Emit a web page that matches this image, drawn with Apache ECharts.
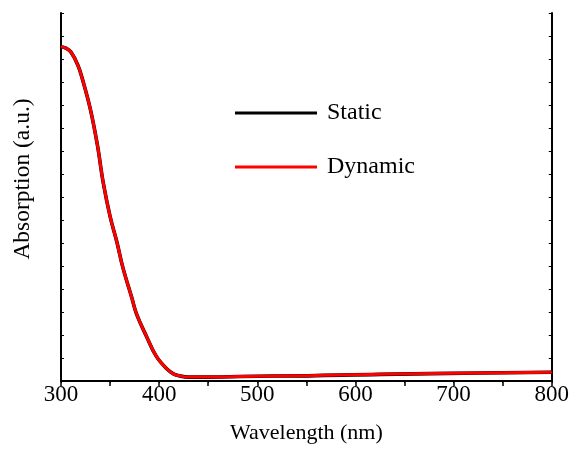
<!DOCTYPE html>
<html><head><meta charset="utf-8">
<script src="https://cdn.jsdelivr.net/npm/echarts@6/dist/echarts.min.js"></script>
<style>html,body{margin:0;padding:0;background:#fff}#c{width:572px;height:449px}</style>
</head><body><div id="c"></div>
<script>
const wavelengths = [300,305,310,317,322,330,337,343,350,357,363,372,377,387,397,408,415,421,430,448,516,523,625,727,800];
const staticAbs  = [14.53,14.47,14.31,13.75,13.10,11.80,10.28,8.63,7.16,6.03,4.94,3.64,2.91,1.95,1.08,0.52,0.30,0.22,0.17,0.17,0.22,0.22,0.29,0.35,0.38];
const dynamicAbs = [14.53,14.47,14.31,13.75,13.10,11.80,10.28,8.63,7.16,6.03,4.94,3.64,2.91,1.95,1.08,0.52,0.30,0.22,0.17,0.17,0.22,0.22,0.29,0.35,0.38];
const xTicks = [300,400,500,600,700,800];
const seriesNames = ['Static','Dynamic'];

const font = 'Times New Roman';
const pair = a => wavelengths.map((w,i)=>[w,a[i]]);
const chart = echarts.init(document.getElementById('c'));
chart.setOption({
  animation:false,
  backgroundColor:'#fff',
  grid:{left:61,right:20,top:13,bottom:66},
  legend:{
    orient:'vertical', left:235, top:101, itemGap:30, padding:0,
    itemWidth:82, itemHeight:3, icon:'rect',
    textStyle:{fontFamily:font,fontSize:24,color:'#000',padding:[0,0,0,5]},
    data:seriesNames
  },
  xAxis:[{
    type:'value', min:300, max:800, interval:100,
    name:'Wavelength (nm)', nameLocation:'middle', nameGap:41,
    nameTextStyle:{fontFamily:font,fontSize:22,color:'#000'},
    axisLine:{lineStyle:{color:'#000',width:2}},
    axisTick:{inside:false,length:5,lineStyle:{color:'#000',width:1.5}},
    minorTick:{show:true,splitNumber:2,length:5,lineStyle:{color:'#000',width:1.5}},
    axisLabel:{fontFamily:font,fontSize:23,color:'#000',margin:2,
      formatter:v=>xTicks.includes(v)?String(v):''},
    splitLine:{show:false}
  },{
    type:'value', min:300, max:800, interval:100, position:'top',
    axisLine:{show:true,lineStyle:{color:'#000',width:2}},
    axisTick:{show:true,inside:true,length:2,lineStyle:{color:'#000'}},
    minorTick:{show:true,splitNumber:2,length:2,lineStyle:{color:'#000'}},
    axisLabel:{show:false}, splitLine:{show:false}
  }],
  yAxis:[{
    type:'value', min:0, max:16, interval:1,
    name:'Absorption (a.u.)', nameLocation:'middle', nameGap:26,
    nameTextStyle:{fontFamily:font,fontSize:23.5,color:'#000',padding:[0,0,0,36]},
    axisLine:{show:true,lineStyle:{color:'#000',width:2}},
    axisTick:{show:true,inside:true,length:3,lineStyle:{color:'#000'}},
    axisLabel:{show:false}, splitLine:{show:false}
  },{
    type:'value', min:0, max:16, interval:1, position:'right',
    axisLine:{show:true,lineStyle:{color:'#000',width:2}},
    axisTick:{show:true,inside:true,length:3,lineStyle:{color:'#000'}},
    axisLabel:{show:false}, splitLine:{show:false}
  }],
  series:[
    {name:seriesNames[0],type:'line',data:pair(staticAbs),smooth:0.4,showSymbol:false,
     lineStyle:{color:'#000',width:3.6},itemStyle:{color:'#000'}},
    {name:seriesNames[1],type:'line',data:pair(dynamicAbs),smooth:0.4,showSymbol:false,
     lineStyle:{color:'#ff0000',width:3},itemStyle:{color:'#ff0000'}}
  ]
});
</script></body></html>
